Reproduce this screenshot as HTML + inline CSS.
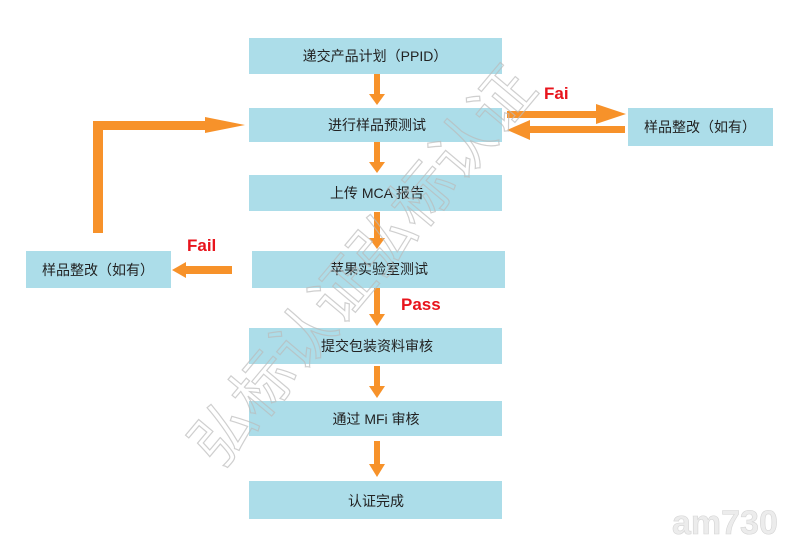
<!DOCTYPE html>
<html><head><meta charset="utf-8"><style>
body{margin:0;background:#fff;}
svg{display:block}
text{font-family:"Liberation Sans","Noto Sans CJK SC",sans-serif;}
</style></head><body>
<svg width="800" height="555" viewBox="0 0 800 555" xmlns="http://www.w3.org/2000/svg">
<g fill="#acdde9">
<rect x="249" y="38" width="253" height="36"/>
<rect x="249" y="108" width="253" height="34"/>
<rect x="249" y="175" width="253" height="36"/>
<rect x="252" y="251" width="253" height="37"/>
<rect x="249" y="328" width="253" height="36"/>
<rect x="249" y="401" width="253" height="35"/>
<rect x="249" y="481" width="253" height="38"/>
<rect x="628" y="108" width="145" height="38"/>
<rect x="26" y="251" width="145" height="37"/>
</g>
<g font-size="14" fill="#222" text-anchor="middle">
<text x="375" y="61">递交产品计划（PPID）</text>
<text x="377" y="130">进行样品预测试</text>
<text x="377" y="198">上传 MCA 报告</text>
<text x="379" y="274">苹果实验室测试</text>
<text x="377" y="351">提交包装资料审核</text>
<text x="376" y="424">通过 MFi 审核</text>
<text x="376" y="506">认证完成</text>
<text x="700" y="132">样品整改（如有）</text>
<text x="98" y="275">样品整改（如有）</text>
</g>
<g fill="#f7922a">
<rect x="374" y="74" width="6" height="22"/><polygon points="369,94 385,94 377,105"/>
<rect x="374" y="142" width="6" height="22"/><polygon points="369,162 385,162 377,173"/>
<rect x="374" y="212" width="6" height="28"/><polygon points="369,238 385,238 377,249"/>
<rect x="374" y="288" width="6" height="28"/><polygon points="369,314 385,314 377,326"/>
<rect x="374" y="366" width="6" height="22"/><polygon points="369,386 385,386 377,398"/>
<rect x="374" y="441" width="6" height="25"/><polygon points="369,464 385,464 377,477"/>
<rect x="507" y="111" width="100" height="7"/><polygon points="596,104 626,114 596,124"/>
<rect x="520" y="126" width="105" height="7"/><polygon points="530,120 507,130 530,140"/>
<rect x="93" y="123" width="10" height="110"/>
<rect x="93" y="121" width="115" height="9"/><polygon points="205,117 245,125 205,133"/>
<rect x="183" y="266" width="49" height="8"/><polygon points="186,262 172,270 186,278"/>
</g>
<g font-size="17" font-weight="bold" fill="#e8141c">
<text x="544" y="99">Fai</text>
<text x="187" y="251">Fail</text>
<text x="401" y="310">Pass</text>
</g>
<g font-size="62" fill="none" stroke="#bbb" stroke-width="1.2" opacity="0.7" transform="translate(220,470) rotate(-50)">
<text x="0" y="0" font-family="'Noto Serif CJK SC',serif">弘标认证弘标认证</text>
</g>
<text x="672" y="534" font-size="34" font-weight="bold" fill="#ececec" stroke="#d4d4d4" stroke-width="0.6">am730</text>
</svg>
</body></html>
